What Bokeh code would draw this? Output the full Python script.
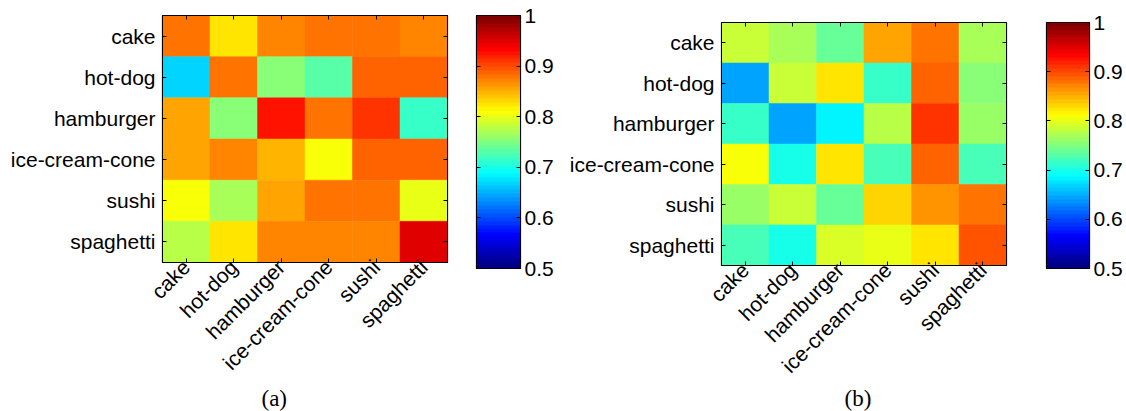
import numpy as np
from bokeh.plotting import figure
from bokeh.layouts import row, column
from bokeh.models import (LinearColorMapper, CategoricalAxis, LinearAxis,
                          FixedTicker, Range1d, Title, ColumnDataSource)
from bokeh.embed import file_html
from bokeh.resources import INLINE

# ---- data -------------------------------------------------------------
FOODS = ["cake", "hot-dog", "hamburger", "ice-cream-cone", "sushi", "spaghetti"]

# rows follow FOODS (top to bottom), columns follow FOODS (left to right)
SIM_A_CAKE      = [0.882, 0.824, 0.869, 0.875, 0.882, 0.869]
SIM_A_HOTDOG    = [0.665, 0.882, 0.750, 0.729, 0.890, 0.890]
SIM_A_HAMBURGER = [0.854, 0.752, 0.922, 0.882, 0.914, 0.711]
SIM_A_ICECREAM  = [0.854, 0.869, 0.850, 0.812, 0.890, 0.890]
SIM_A_SUSHI     = [0.812, 0.773, 0.859, 0.882, 0.875, 0.802]
SIM_A_SPAGHETTI = [0.781, 0.824, 0.869, 0.869, 0.869, 0.948]

SIM_B_CAKE      = [0.789, 0.771, 0.737, 0.854, 0.882, 0.766]
SIM_B_HOTDOG    = [0.641, 0.789, 0.824, 0.711, 0.890, 0.750]
SIM_B_HAMBURGER = [0.711, 0.641, 0.687, 0.781, 0.914, 0.758]
SIM_B_ICECREAM  = [0.812, 0.703, 0.824, 0.723, 0.890, 0.725]
SIM_B_SUSHI     = [0.758, 0.789, 0.737, 0.830, 0.867, 0.882]
SIM_B_SPAGHETTI = [0.725, 0.703, 0.795, 0.802, 0.824, 0.898]

SIM_A = [SIM_A_CAKE, SIM_A_HOTDOG, SIM_A_HAMBURGER, SIM_A_ICECREAM, SIM_A_SUSHI, SIM_A_SPAGHETTI]
SIM_B = [SIM_B_CAKE, SIM_B_HOTDOG, SIM_B_HAMBURGER, SIM_B_ICECREAM, SIM_B_SUSHI, SIM_B_SPAGHETTI]

CB_TICKS = [0.5, 0.6, 0.7, 0.8, 0.9, 1.0]
CB_LABELS = {0.5: "0.5", 0.6: "0.6", 0.7: "0.7", 0.8: "0.8", 0.9: "0.9", 1.0: "1"}
V_LOW, V_HIGH = 0.5, 1.0

FONT = "Liberation Sans"
SERIF = "Liberation Serif"
LABEL_SIZE = "21px"


def jet(n=64):
    cols = []
    for i in range(n):
        t = i / (n - 1)
        r = np.clip(min(4 * t - 1.5, -4 * t + 4.5), 0, 1)
        g = np.clip(min(4 * t - 0.5, -4 * t + 3.5), 0, 1)
        b = np.clip(min(4 * t + 0.5, -4 * t + 2.5), 0, 1)
        cols.append("#%02x%02x%02x" % (int(round(r * 255)), int(round(g * 255)), int(round(b * 255))))
    return cols


MAPPER = LinearColorMapper(palette=jet(64), low=V_LOW, high=V_HIGH)


def style_inward(axis, show_labels=True):
    axis.major_tick_in = 4
    axis.major_tick_out = 0
    axis.minor_tick_in = 0
    axis.minor_tick_out = 0
    axis.major_tick_line_color = "black"
    axis.axis_line_color = "black"
    axis.major_label_text_font = FONT
    if show_labels:
        axis.major_label_text_font_size = LABEL_SIZE
        axis.major_label_text_color = "black"
    else:
        # tick marks only, no label text
        axis.major_label_text_font_size = "1px"
        axis.major_label_text_color = None
        axis.major_label_standoff = 0


def new_figure(x_range, y_range, left, top, fw, fh, right, bottom, **kw):
    return figure(x_range=x_range, y_range=y_range, title=None,
                  frame_width=fw, frame_height=fh,
                  min_border_left=left, min_border_right=right,
                  min_border_top=top, min_border_bottom=bottom,
                  output_backend="svg", toolbar_location=None,
                  background_fill_color="white", border_fill_color="white",
                  outline_line_color="black", **kw)


def heatmap(values, left, top, fw, fh, right, bottom, caption, cap_offset, cap_standoff):
    xs, ys, vs = [], [], []
    for r, name in enumerate(FOODS):
        for c, col in enumerate(FOODS):
            xs.append(col)
            ys.append(name)
            vs.append(values[r][c])
    src = ColumnDataSource(dict(x=xs, y=ys, v=vs))

    p = new_figure(FOODS, FOODS[::-1], left, top, fw, fh, right, bottom)
    cmap = {"field": "v", "transform": MAPPER}
    p.rect("x", "y", 1, 1, source=src, fill_color=cmap, line_color=cmap, line_width=0.5)

    p.grid.visible = False
    p.outline_line_width = 1.2

    style_inward(p.xaxis[0])
    style_inward(p.yaxis[0])
    p.xaxis.major_label_orientation = np.pi / 4
    p.xaxis.major_label_standoff = 1
    p.yaxis.major_label_standoff = 7

    top_ax = CategoricalAxis()
    right_ax = CategoricalAxis()
    style_inward(top_ax, show_labels=False)
    style_inward(right_ax, show_labels=False)
    p.add_layout(top_ax, "above")
    p.add_layout(right_ax, "right")

    p.add_layout(Title(text=caption, align="left", offset=cap_offset,
                       text_font=SERIF, text_font_size="23px",
                       text_font_style="normal", text_color="black",
                       standoff=cap_standoff), "below")
    return p


def colorbar(left, top, fw, fh, right, bottom):
    c = new_figure(Range1d(0, 1), Range1d(V_LOW, V_HIGH), left, top, fw, fh, right, bottom,
                   x_axis_location=None, y_axis_location="right")
    levels = np.linspace(V_LOW, V_HIGH, 64).reshape(64, 1)
    c.image(image=[levels], x=0, y=V_LOW, dw=1, dh=V_HIGH - V_LOW, color_mapper=MAPPER)
    c.grid.visible = False
    c.outline_line_width = 1.2

    ax = c.yaxis[0]
    ax.ticker = FixedTicker(ticks=CB_TICKS)
    ax.major_label_overrides = CB_LABELS
    style_inward(ax)
    ax.major_label_standoff = 4

    lax = LinearAxis(ticker=FixedTicker(ticks=CB_TICKS))
    style_inward(lax, show_labels=False)
    c.add_layout(lax, "left")
    return c


fig_a = heatmap(SIM_A, left=162, top=15, fw=285, fh=247, right=21, bottom=149,
                caption="(a)", cap_offset=99, cap_standoff=-3)
cb_a = colorbar(left=8, top=15, fw=44, fh=253, right=43, bottom=143)
fig_b = heatmap(SIM_B, left=158, top=22, fw=285, fh=243, right=32, bottom=146,
                caption="(b)", cap_offset=123, cap_standoff=-9)
cb_b = colorbar(left=8, top=22, fw=43, fh=246, right=37, bottom=143)

# each plot sits in its own column so the frames keep their own offsets
layout = row(column(fig_a), column(cb_a), column(fig_b), column(cb_b), spacing=0)

open("out.html", "w").write(file_html(layout, INLINE))
